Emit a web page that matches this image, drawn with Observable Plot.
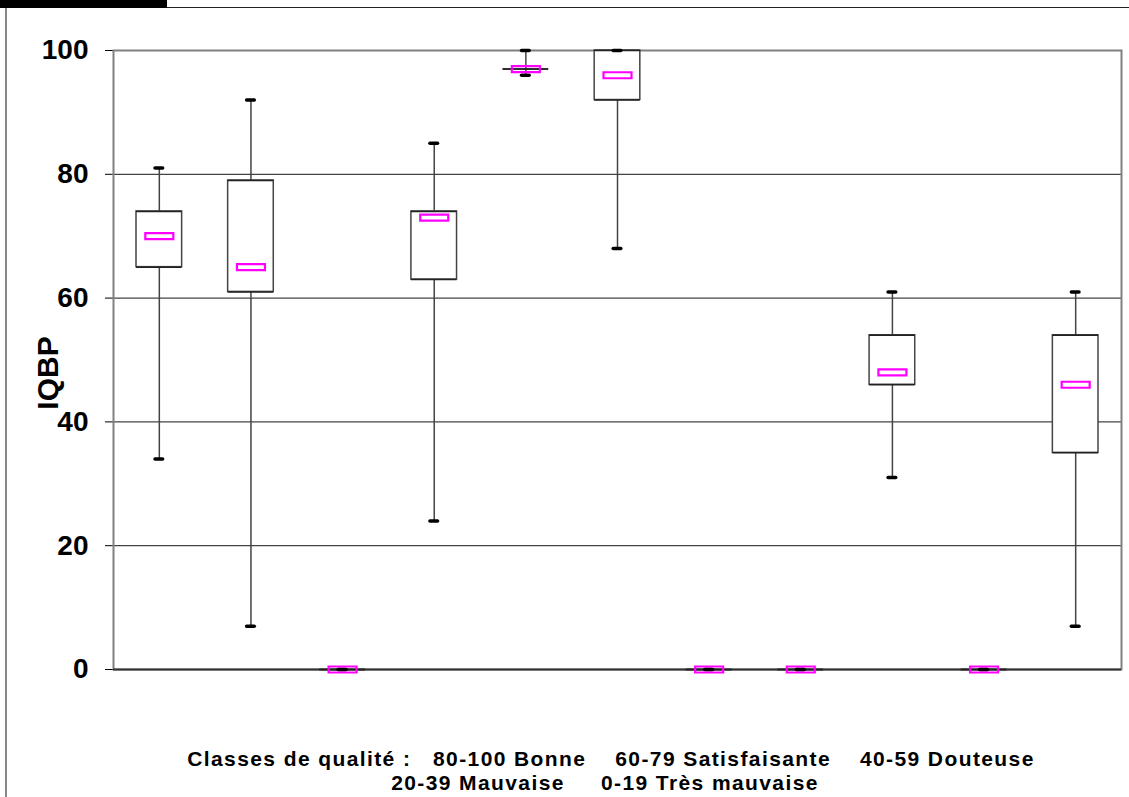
<!DOCTYPE html>
<html>
<head>
<meta charset="utf-8">
<script src="https://cdn.jsdelivr.net/npm/d3@7"></script>
<script src="https://cdn.jsdelivr.net/npm/@observablehq/plot@0.6"></script>
<style>
  html, body { margin: 0; padding: 0; background: #fff; }
  #wrap { position: relative; width: 1129px; height: 797px; overflow: hidden; font-family: "Liberation Sans", Arial, sans-serif; }
  #bar { position: absolute; left: 0; top: 0; width: 167px; height: 8px; background: #000; }
  #topline { position: absolute; left: 167px; top: 7px; width: 962px; height: 1px; background: #222; }
  #leftline { position: absolute; left: 5px; top: 8px; width: 2px; height: 789px; background: #888; }
  #legend { position: absolute; left: 0; width: 1222px; top: 747px; text-align: center; font-weight: bold; font-size: 21px; letter-spacing: 1.4px; line-height: 24px; white-space: pre; color: #000; }
  #legend span { display: block; }
  #ylabel { position: absolute; left: 48px; top: 373px; transform: translate(-50%, -50%) rotate(-90deg); font-weight: bold; font-size: 30px; line-height: 30px; white-space: nowrap; color: #000; }
  #chart { position: absolute; left: 0; top: 0; }
</style>
</head>
<body>
<div id="wrap">
  <div id="chart"></div>
  <div id="bar"></div>
  <div id="topline"></div>
  <div id="leftline"></div>
  <div id="ylabel"></div>
  <div id="legend"></div>
</div>
<script>
// Data (IQBP box plots, 11 stations)
const categories = ["S1", "S2", "S3", "S4", "S5", "S6", "S7", "S8", "S9", "S10", "S11"];
const minValues    = [34,  7, 0, 24,  96,  68, 0, 0, 31, 0,  7];
const q1Values     = [65, 61, 0, 63,  97,  92, 0, 0, 46, 0, 35];
const medianValues = [70, 65, 0, 73,  97,  96, 0, 0, 48, 0, 46];
const q3Values     = [74, 79, 0, 74,  97, 100, 0, 0, 54, 0, 54];
const maxValues    = [81, 92, 0, 85, 100, 100, 0, 0, 61, 0, 61];
const yTicks = [0, 20, 40, 60, 80, 100];
const gridValues = [20, 40, 60, 80];
const yLabel = "IQBP";
const legendLines = [
  "Classes de qualité :   80-100 Bonne    60-79 Satisfaisante    40-59 Douteuse",
  "20-39 Mauvaise     0-19 Très mauvaise"
];

const table = categories.map((c, i) => ({
  cat: c, min: minValues[i], q1: q1Values[i], median: medianValues[i], q3: q3Values[i], max: maxValues[i]
}));

const medianSymbol = {
  draw(context) { context.rect(-14, -3, 28, 6); }
};

const chart = Plot.plot({
  width: 1129,
  height: 797,
  marginLeft: 113,
  marginRight: 8,
  marginTop: 50,
  marginBottom: 128,
  style: { fontFamily: "'Liberation Sans', Arial, sans-serif", fontSize: "28px", fontWeight: "bold", color: "#000", background: "transparent" },
  x: { domain: categories, padding: 0, round: false, axis: null },
  y: {
    domain: [0, 100], ticks: yTicks, tickSize: 8, tickPadding: 17, tickFormat: d => String(d), label: null
  },
  marks: [
    Plot.ruleY(gridValues, { stroke: "#444", strokeWidth: 1.2 }),
    Plot.frame({ stroke: "#808080", strokeWidth: 2 }),
    Plot.ruleY([0], { stroke: "#333", strokeWidth: 2 }),
    Plot.ruleX(table, { x: "cat", y1: "min", y2: "max", stroke: "#444", strokeWidth: 1.5 }),
    Plot.barY(table, { x: "cat", y1: "q1", y2: "q3", fill: "#fff", stroke: "#444", strokeWidth: 1.5, insetLeft: 23, insetRight: 23 }),
    Plot.tickY(table, { x: "cat", y: "q1", stroke: "#222", strokeWidth: 1.5, insetLeft: 23, insetRight: 23 }),
    Plot.tickY(table, { x: "cat", y: "q3", stroke: "#222", strokeWidth: 1.5, insetLeft: 23, insetRight: 23 }),
    Plot.tickY(table, { x: "cat", y: "min", stroke: "#000", strokeWidth: 3.5, strokeLinecap: "round", insetLeft: 42, insetRight: 42 }),
    Plot.tickY(table, { x: "cat", y: "max", stroke: "#000", strokeWidth: 3.5, strokeLinecap: "round", insetLeft: 42, insetRight: 42 }),
    Plot.dot(table, { x: "cat", y: "median", symbol: medianSymbol, fill: "none", stroke: "#ff00ff", strokeWidth: 2.2 })
  ]
});
document.getElementById("chart").appendChild(chart);
document.getElementById("ylabel").textContent = yLabel;
const legendEl = document.getElementById("legend");
legendLines.forEach((line, i) => {
  const s = document.createElement("span");
  s.textContent = line;
  if (i === 1) s.style.marginLeft = "-12px";
  legendEl.appendChild(s);
});
</script>
</body>
</html>
